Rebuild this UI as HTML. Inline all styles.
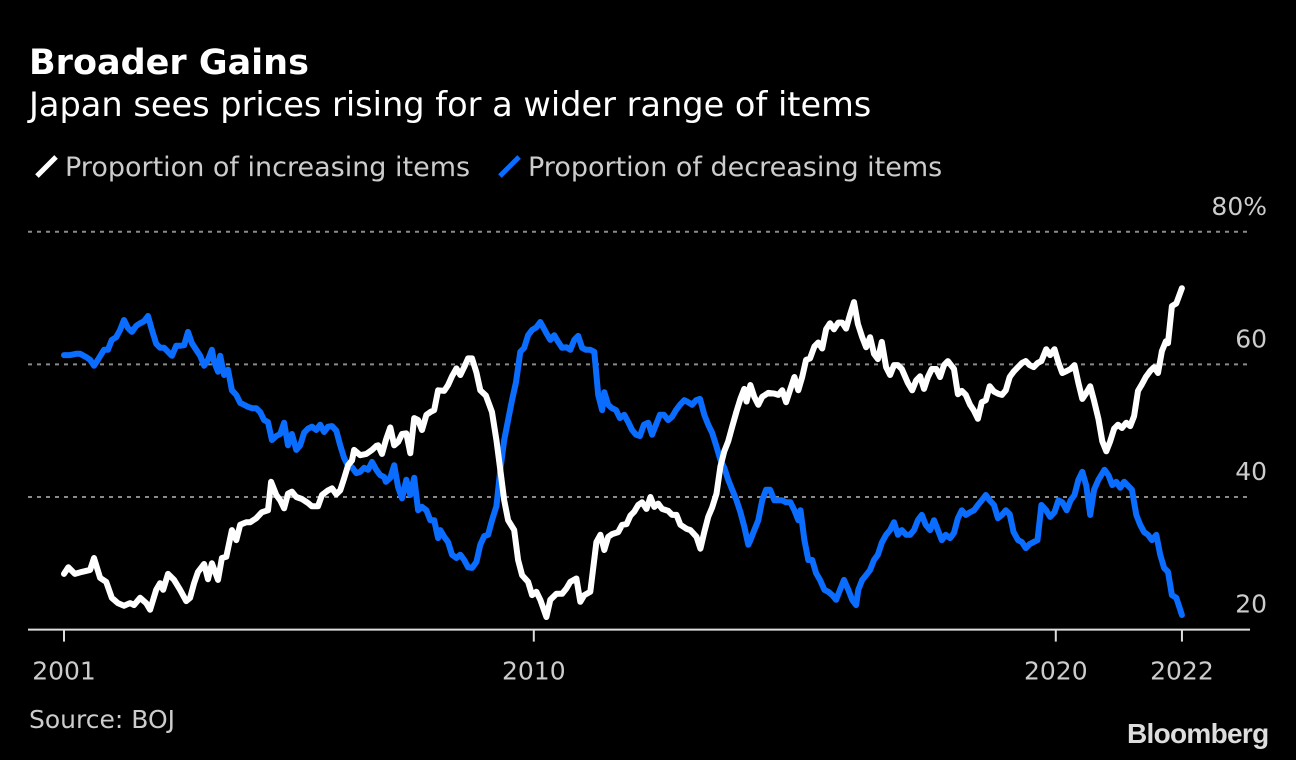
<!DOCTYPE html>
<html><head><meta charset="utf-8">
<style>
html,body{margin:0;padding:0;background:#000;}
body{width:1296px;height:760px;overflow:hidden;position:relative;font-family:"DejaVu Sans","Liberation Sans",sans-serif;}
.t{position:absolute;white-space:nowrap;}
</style></head>
<body>
<div class="t" style="left:29px;top:43px;font-size:35px;font-weight:bold;color:#fff;">Broader Gains</div>
<div class="t" style="left:29px;top:85px;font-size:33.6px;color:#fff;">Japan sees prices rising for a wider range of items</div>
<div class="t" style="left:30px;top:152px;font-size:27px;color:#ccc;"><span style="display:inline-block;width:5px;height:27px;background:#fff;transform:rotate(45deg);margin:0 16px 0 14px;vertical-align:-4px;"></span>Proportion of increasing items</div>
<div class="t" style="left:493px;top:152px;font-size:27px;color:#ccc;"><span style="display:inline-block;width:5px;height:27px;background:#0a6dff;transform:rotate(45deg);margin:0 16px 0 14px;vertical-align:-4px;"></span>Proportion of decreasing items</div>
<svg id="chart" width="1296" height="760" style="position:absolute;left:0;top:0;" xmlns="http://www.w3.org/2000/svg"></svg>
<div class="t" style="left:29px;top:705px;font-size:25px;color:#ccc;">Source: BOJ</div>
<div class="t" style="left:1127px;top:718px;font-size:28px;font-weight:bold;color:#ddd;font-family:'Liberation Sans',sans-serif;letter-spacing:-0.7px;">Bloomberg</div>
<script>
// months since Jan 2001
const incMonths=[0,1,2.5,4.1,6,6.9,8.3,9.7,11,12.4,13.8,15.2,16.1,17.5,18.9,19.8,21.2,22.1,22.8,23.9,25.3,26.7,28.1,29,29.9,30.8,32.2,33.1,34,35.4,36.3,37.3,38.6,39.6,40.5,41.9,42.8,44.2,45.5,46.9,47.6,48.8,49.7,50.6,51.5,52.4,53.4,54.7,56.1,57,58.4,59.3,60.7,61.6,62.6,63.5,64.4,65.3,66.2,66.7,68.1,69.5,70.8,71.8,72.2,73.1,74,75,75.9,76.8,77.7,78.7,79.6,80.5,81.4,82.3,83.3,84.2,85.1,86,87.4,88.3,89.2,90.2,91.1,92,92.9,93.8,94.8,95.7,97,98.4,99.4,100.3,101.2,102.1,103.5,104.4,105.3,106.7,107.6,108.6,109.5,110.9,111.8,113.2,114.5,115.5,116.4,117.8,118.7,119.6,121,122.4,123.3,124.2,125.1,126,127.4,128.3,129.3,130.2,131.1,132,132.9,133.9,134.8,135.7,136.6,137.5,138.9,139.8,140.8,141.7,143.1,144,145.4,146.3,147.2,148.1,149,150,150.9,151.8,152.7,153.6,154.6,155.5,156.4,156.9,157.8,158.7,159.6,160.5,161.9,163.3,164.2,165.1,166,167,167.9,168.8,169.7,170.6,171.5,172.5,173.4,174.3,175.2,176.1,177,178,178.9,179.8,180.7,181.6,182.5,183.5,184.4,185.3,186.2,187.1,188,189,189.9,190.8,191.7,192.6,194,195,195.9,196.8,197.7,198.6,199.5,200.5,201.4,202.3,203.2,204.6,205.5,206.4,207.3,208.3,209.2,210.1,211,211.9,212.8,213.8,214.7,215.6,216.5,217.4,218.3,219.3,220.2,221.1,222,222.9,223.8,224.7,225.8,226.7,227.7,228.6,229.5,230.5,231.4,232.3,233.2,234.1,235,235.9,236.8,237.8,238.7,239.6,240.5,241.4,242.3,243.2,244.2,245.1,246,246.9,247.8,248.7,249.7,250.6,251.5,252.4,253.3,253.8,254.7,255.7,257];
const incValues=[28.4,29.4,28.4,28.7,29.0,30.8,27.8,27.2,24.8,24.0,23.6,24.0,23.7,24.8,24.0,23.0,26.0,27.0,26.0,28.4,27.5,26.0,24.3,24.8,27.0,28.7,29.9,27.6,30.0,27.5,30.8,31.0,35.0,33.5,35.8,36.2,36.2,36.8,37.7,38.0,42.3,40.3,39.5,38.3,40.5,40.8,40.0,39.7,39.1,38.6,38.6,40.3,41.0,41.3,40.4,41.0,42.8,44.8,45.5,47.1,46.3,46.5,47.1,47.7,47.8,46.5,48.6,50.5,47.8,48.3,49.5,49.6,46.6,51.9,51.6,50.1,52.4,52.8,53.1,56.1,56.0,56.9,58.2,59.4,58.4,59.6,60.9,60.9,58.8,56.1,55.3,52.8,48.6,44.1,39.5,36.5,35.0,30.5,28.2,27.2,25.2,25.7,24.5,21.9,24.5,25.4,25.4,26.2,27.2,27.7,24.2,25.2,25.7,33.2,34.3,32.0,34.0,34.4,34.7,35.8,35.9,37.2,37.8,38.8,39.2,38.2,40.0,38.5,39.0,38.2,37.9,37.3,37.3,35.8,35.2,35.0,34.0,32.2,34.7,37.0,38.4,40.5,44.6,46.9,48.4,50.6,52.9,54.8,56.3,54.4,56.9,55.1,53.9,55.1,55.7,55.6,55.4,56.1,54.3,56.3,58.1,56.1,58.1,60.7,60.9,62.7,63.3,62.4,65.3,66.2,65.3,66.3,66.3,65.4,67.5,69.4,66.1,64.1,62.6,64.1,61.6,60.8,63.4,59.6,58.4,59.9,59.9,59.3,57.2,56.1,57.6,58.2,56.3,58.1,59.3,59.3,58.1,59.9,60.5,59.3,55.5,56.0,55.4,53.9,53.0,51.8,54.3,54.6,56.7,55.9,55.6,55.4,56.1,58.1,58.9,59.6,60.2,60.5,59.9,59.6,60.2,60.5,62.3,61.4,62.3,60.3,58.7,59.0,59.3,59.9,57.2,54.8,55.7,56.7,54.5,51.8,48.4,46.9,48.4,50.3,50.9,50.4,51.2,50.7,52.2,56.0,57.0,58.1,59.0,59.6,58.7,62.0,63.5,63.2,68.8,69.2,71.5];
const decMonths=[0,1.4,2.8,3.7,5.1,6,6.9,7.8,9.2,10.1,11,12,12.9,13.8,14.7,15.6,16.6,17.5,18.4,19.3,20.2,21.2,22.1,23,23.9,24.8,25.8,26.7,27.6,28.5,29.4,30.4,31.3,32.2,33.1,34,34.5,35.4,35.9,36.8,37.7,38.6,39.6,40.5,41.4,42.3,43.2,44.2,45.1,46,46.9,47.8,48.8,49.7,50.6,51.5,52.4,53.4,54.3,55.2,56.1,57,58,58.9,59.8,60.7,61.6,62.6,63.5,64.4,65.3,66.2,67.2,68.1,69,69.9,70.8,71.8,72.7,73.6,74,75,75.9,76.8,77.7,78.7,79.6,80.5,81.4,82.3,83.3,84.2,85.1,86,86.5,87.4,88.3,89.2,90.2,91.1,92,92.9,93.8,94.8,95.7,96.6,97.5,98.4,99.4,100.3,101.2,102.1,103,103.9,104.9,105.8,106.7,107.6,108.6,109.5,110.9,111.8,112.7,113.6,114.5,115.5,116.4,117.3,118.2,119.1,120,121,121.9,122.8,123.7,124.2,125.1,126,126.9,127.8,128.8,129.7,130.6,131.5,132.4,133.3,134.3,135.2,136.1,137,137.9,138.9,139.8,140.7,141.6,142.6,143.5,144.4,145.3,146.2,147.2,148.1,149,149.9,150.9,151.8,152.7,153.6,154.6,155.5,156.4,157.3,157.8,158.7,159.6,160.5,161.4,162.3,163.3,164.2,165.1,166,167,167.9,168.8,169.3,170.2,171.1,172,172.9,173.8,174.8,175.7,176.6,177.5,178.4,179.3,180.3,181.2,182.1,182.6,183.5,184.4,185.3,186.2,187.1,188,189,189.9,190.8,191.7,192.6,193.6,194.5,195.4,196.3,197.2,198.1,199.1,200,200.9,201.8,202.7,203.7,204.6,205.5,206.4,207.3,208.3,209.2,210.1,211,211.9,212.8,213.8,214.7,215.6,216.5,217.4,218.3,219.3,220.2,221.1,222,222.9,223.8,224.7,225.8,226.7,227.7,228.6,229.5,230.5,231.4,232.3,233.2,234.1,235,235.9,236.8,237.8,239.2,240.1,241,241.9,242.8,243.7,244.6,245.5,246.5,247.4,248.3,249.2,250.1,251.1,252,252.9,253.8,254.7,255.7,256.6,257];
const decValues=[61.4,61.4,61.6,61.6,61.1,60.7,59.8,60.7,62.2,62.2,63.7,64.1,65.2,66.7,65.5,64.9,65.8,66.2,66.5,67.3,65.2,63.1,62.5,62.5,61.9,61.3,62.8,62.8,62.9,64.9,63.2,62.2,61.3,59.8,60.7,62.2,60.4,58.9,61.3,58.4,59.2,56.1,55.4,54.2,53.9,53.6,53.4,53.4,52.8,51.6,51.3,48.6,49.2,49.5,51.2,47.8,49.5,47.1,47.8,49.7,50.3,50.6,50.1,50.9,49.8,50.6,50.7,50.0,47.8,45.9,44.7,44.5,43.6,43.8,44.4,44.1,45.3,44.1,43.3,43.0,42.3,42.9,44.8,41.5,39.8,42.6,40.3,42.9,38.0,38.5,38.0,36.5,36.5,33.8,35.0,34.0,33.2,31.3,30.8,31.3,30.5,29.4,29.3,30.2,32.8,34.1,34.3,36.5,38.6,44.1,48.6,51.6,54.6,57.3,61.9,62.5,64.4,65.2,65.6,66.4,64.7,63.7,64.4,63.4,62.5,62.6,62.2,63.7,64.3,62.5,62.2,62.2,61.9,55.4,53.1,55.8,53.9,53.4,53.1,51.9,52.4,51.3,50.1,49.4,49.2,50.9,51.2,49.4,50.9,52.4,52.4,51.6,52.1,53.1,53.9,54.6,54.3,53.9,54.6,54.8,52.4,50.9,49.7,47.8,45.6,44.4,42.6,41.1,39.5,37.7,35.5,32.8,33.5,35.0,36.5,39.5,41.1,41.1,39.5,39.5,39.5,39.2,39.2,38.0,36.5,38.0,33.5,30.5,30.5,28.5,27.5,26.0,25.7,25.2,24.5,26.0,27.5,26.0,24.5,23.7,26.0,27.5,28.2,29.0,30.5,31.3,33.1,34.3,35.0,36.2,34.3,35.0,34.3,34.3,35.0,36.5,37.3,35.8,35.0,36.5,35.0,33.5,34.3,33.8,34.6,36.8,38.0,37.3,37.7,38.0,38.8,39.5,40.3,39.5,38.8,36.8,37.3,38.0,37.4,34.7,33.5,33.2,32.3,32.9,33.2,33.5,38.8,38.0,37.0,37.7,39.5,39.2,38.0,39.5,40.3,42.6,43.8,41.7,37.3,41.1,42.6,44.1,43.3,41.8,42.3,41.4,42.3,41.7,41.1,37.3,35.8,34.7,34.3,33.5,34.3,31.3,29.3,28.7,25.2,24.8,23.0,22.2];
const yTicks=[80,60,40,20];
const yTickLabels=["80%","60","40","20"];
const xTickMonths=[0,108,228,257];
const xTickLabels=["2001","2010","2020","2022"];

const svg=document.getElementById('chart');
const NS='http://www.w3.org/2000/svg';
function xs(m){return 64+m*4.35;}
function ys(v){return 497-(v-40)*6.63;}
function mk(tag,attrs){const e=document.createElementNS(NS,tag);for(const k in attrs)e.setAttribute(k,attrs[k]);svg.appendChild(e);return e;}

yTicks.forEach((v,i)=>{
  if(v!==20){
    const g=mk('line',{x1:28,x2:1250,y1:ys(v),y2:ys(v),stroke:'#8a8a8a','stroke-width':2,'stroke-dasharray':'4 5'});
    
    
  }
  const t=mk('text',{x:1267,y:ys(v)-17,'text-anchor':'end','font-size':25,fill:'#ccc','font-family':'DejaVu Sans, Liberation Sans, sans-serif'});
  t.textContent=yTickLabels[i];
  
  
});
const base=mk('line',{x1:28,x2:1250,y1:ys(20),y2:ys(20),stroke:'#ddd','stroke-width':2});


xTickMonths.forEach((m,i)=>{
  const tk=mk('line',{x1:xs(m),x2:xs(m),y1:ys(20),y2:ys(20)+12,stroke:'#ddd','stroke-width':2});
  
  
  const t=mk('text',{x:xs(m),y:ys(20)+50,'text-anchor':'middle','font-size':25,fill:'#ccc','font-family':'DejaVu Sans, Liberation Sans, sans-serif'});
  t.textContent=xTickLabels[i];
  
  
});
function line(ms,vs,color,name){
  const d=ms.map((m,i)=>(i?'L':'M')+xs(m).toFixed(1)+' '+ys(vs[i]).toFixed(1)).join(' ');
  const p=mk('path',{d:d,fill:'none',stroke:color,'stroke-width':6,'stroke-linejoin':'round','stroke-linecap':'round'});
  
  
}
line(decMonths,decValues,'#0a6dff','series-decreasing-items');
line(incMonths,incValues,'#ffffff','series-increasing-items');
</script>
</body></html>
